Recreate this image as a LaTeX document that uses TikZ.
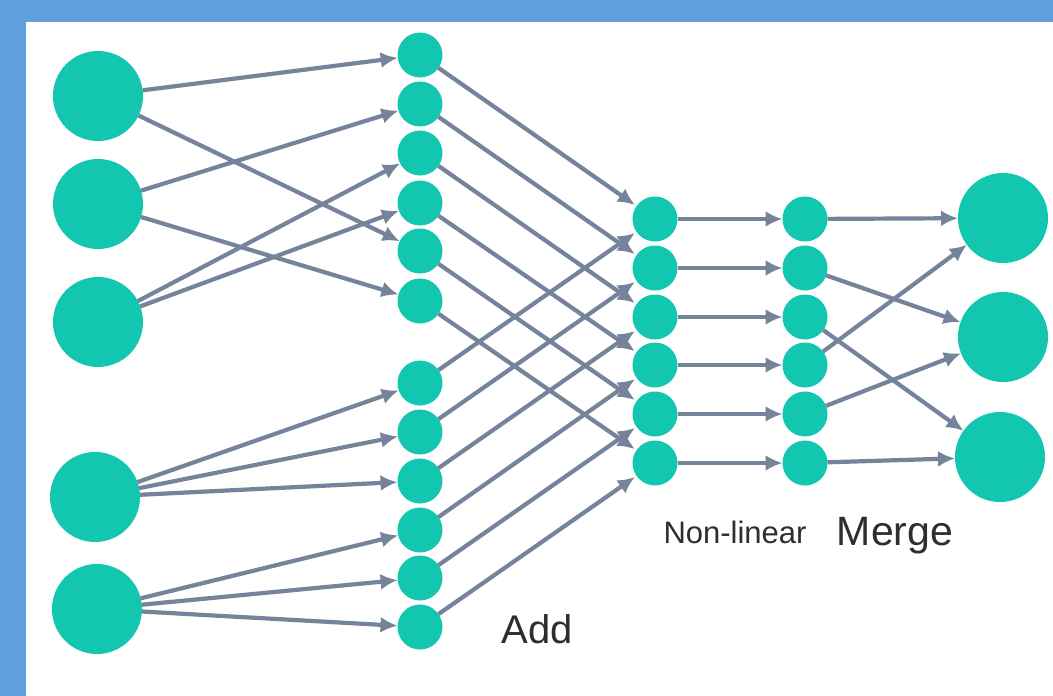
\documentclass[tikz,border=0pt]{standalone}
\usepackage{fontspec}
\setmainfont{Liberation Sans}
\usetikzlibrary{arrows.meta}
\definecolor{frameblue}{RGB}{95,160,220}
\definecolor{neuron}{RGB}{18,198,176}
\definecolor{wire}{RGB}{118,132,155}
\definecolor{txt}{RGB}{45,45,50}
\begin{document}
\begin{tikzpicture}[x=1pt,y=-1pt,
  big/.style={circle,fill=neuron,minimum size=90pt,inner sep=0pt,outer sep=0pt},
  small/.style={circle,fill=neuron,minimum size=45pt,inner sep=0pt,outer sep=0pt},
  conn/.style={draw=wire,line width=4.2pt,-{Latex[length=17pt,width=16pt]}},
  lbl/.style={text=txt,anchor=base,inner sep=0pt}]
\useasboundingbox (0,0) rectangle (1053,696);
\fill[frameblue] (0,0) rectangle (1053,696);
\fill[white] (26,22) rectangle (1053,696);
% input layer
\node[big] (a1) at (98,96) {};
\node[big] (a2) at (98,204) {};
\node[big] (a3) at (98,322) {};
\node[big] (a4) at (95,497) {};
\node[big] (a5) at (97,609) {};
% add layer
\foreach \y [count=\i] in {55,104,153,203,251,301,383,432,481,530,578,627}
  \node[small] (b\i) at (420,\y) {};
% non-linear layer
\foreach \y [count=\i] in {219,268,317,365,414,463}
  \node[small] (c\i) at (655,\y) {};
% merge layer
\foreach \y [count=\i] in {219,268,317,365,414,463}
  \node[small] (d\i) at (805,\y) {};
% output layer
\node[big] (e1) at (1003,218) {};
\node[big] (e2) at (1003,337) {};
\node[big] (e3) at (1000,457) {};
% connectors
\foreach \s/\t in {a1/b1,a1/b5,a2/b2,a2/b6,a3/b3,a3/b4,a4/b7,a4/b8,a4/b9,a5/b10,a5/b11,a5/b12}
  \draw[conn] (\s) -- (\t);
\foreach \s/\t in {b1/c1,b2/c2,b3/c3,b4/c4,b5/c5,b6/c6,b7/c1,b8/c2,b9/c3,b10/c4,b11/c5,b12/c6}
  \draw[conn,shorten >=2pt] (\s) -- (\t);
\foreach \i in {1,...,6}
  \draw[conn] (c\i) -- (d\i);
\foreach \s/\t in {d1/e1,d2/e2,d3/e3,d4/e1,d5/e2,d6/e3}
  \draw[conn] (\s) -- (\t);
% labels
\node[lbl,font=\fontsize{40}{40}\selectfont] (add) at (537,643) {Add};
\node[lbl,font=\fontsize{41}{41}\selectfont] (merge) at (895,545) {Merge};
\node[lbl,font=\fontsize{31}{31}\selectfont] (nonlin) at (735,543) {Non-linear};
\end{tikzpicture}
\end{document}
